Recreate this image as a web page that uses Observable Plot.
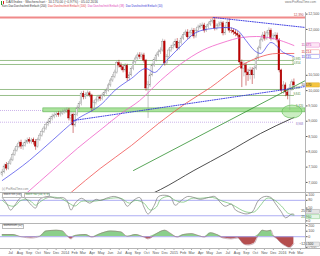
<!DOCTYPE html>
<html><head><meta charset="utf-8">
<script src="https://cdn.jsdelivr.net/npm/d3@7"></script>
<script src="https://cdn.jsdelivr.net/npm/@observablehq/plot@0.6"></script>
<style>
html,body{margin:0;padding:0;background:#fff;}
#wrap{position:relative;width:320px;height:256px;overflow:hidden;font-family:"Liberation Sans",Arial,sans-serif;background:#fff;}
.t{position:absolute;white-space:nowrap;line-height:1;}
.p{position:absolute;left:0;}
.hl{position:absolute;left:0;width:320px;height:0;border-top:0.6px solid #b5b5b5;}
</style></head><body>
<div id="wrap"></div>
<script>
// ---------- DATA ----------
const headerTitle = "DAX/Index · Wochenchart · 10.170,00 (−0,97%) · 05.02.2016";
const legendItems = [
  ["Kurs Dax Durchschnitt Einfach (200)", "#333333"],
  ["Dax Durchschnitt Einfach (100)", "#e23a3a"],
  ["Dax Durchschnitt Einfach (38)", "#e043b5"],
  ["Dax Durchschnitt Einfach (10)", "#3535d5"]
];
const firstWeek = "2013-06-03";
const xStart = "2013-05-28", xEnd = "2016-03-18";

const opens = [7250,7330,7560,7450,7600,7720,7900,8040,8150,8300,
 8170,8200,8300,8380,8330,8380,8330,8170,8390,8530,
 8650,8760,8880,8960,9070,9150,9190,9240,9200,9250,
 9290,9320,9350,9090,9200,8860,9200,9420,9560,9900,
 9780,9850,9910,9840,9420,9600,9680,9780,9730,9840,
 9920,10000,10170,10330,10450,10590,10900,10820,10760,10660,
 10800,10400,10500,10700,10920,11050,11150,11100,11150,10980,
 10070,10170,10500,10820,11000,11150,11250,11310,11600,10890,
 11100,11310,11400,11470,11600,11380,11550,11700,11820,11900,
 11740,11880,11960,11770,11950,12060,12100,12130,11960,12080,
 12160,12240,12290,12030,12100,12160,12200,11870,12050,12220,
 11960,11950,11900,11850,11800,10920,10720,10820,10590,10500,
 10660,10500,10720,11050,11380,11640,11800,11700,11870,11960,
 11700,11770,11800,11640,10660,10000,10170,9940,9840,10070,
 10270];
const closes = [7330,7520,7450,7600,7720,7900,8040,8150,8270,8170,
 8200,8300,8360,8330,8370,8310,8170,8390,8530,8650,
 8760,8880,8960,9070,9150,9190,9220,9200,9250,9290,
 9320,9350,9090,9180,8860,9200,9420,9560,9900,9780,
 9850,9910,9840,9420,9600,9680,9780,9730,9840,9920,
 10000,10170,10330,10450,10590,10900,10820,10760,10660,10800,
 10400,10500,10700,10920,11050,11150,11100,11150,10980,10070,
 10170,10500,10820,11000,11150,11250,11310,11600,10890,11100,
 11310,11400,11470,11600,11380,11550,11700,11820,11900,11740,
 11880,11960,11770,11950,12060,12100,12130,11960,12080,12160,
 12240,12290,12030,12100,12160,12200,11870,12050,12220,11960,
 11950,11900,11850,11800,10920,10720,10820,10590,10500,10660,
 10500,10720,11050,11380,11640,11800,11700,11870,11960,11700,
 11770,11800,11640,10660,10000,10170,9940,9840,10070,10270,
 10170];
const highs = [7420,7600,7650,7680,7800,7960,8120,8230,8350,8380,
 8290,8390,8450,8460,8440,8450,8400,8450,8600,8720,
 8830,8950,9040,9150,9230,9270,9300,9310,9330,9370,
 9400,9430,9420,9290,9270,9280,9500,9640,9960,9980,
 9930,9990,9970,9880,9670,9750,9850,9850,9910,10000,
 10080,10240,10400,10530,10670,10960,10990,10900,10830,10880,
 10860,10600,10780,10990,11130,11230,11240,11230,11220,11020,
 10300,10580,10880,11080,11230,11330,11400,11680,11650,11180,
 11380,11480,11560,11680,11700,11630,11780,11900,11980,11990,
 11950,12040,12030,12020,12140,12190,12210,12200,12150,12240,
 12320,12390,12360,12180,12250,12280,12260,12130,12300,12340,
 12050,12020,11980,11930,11850,11000,10950,10900,10700,10760,
 10750,10800,11120,11450,11720,11900,11930,11950,12050,12020,
 11860,11900,11880,11700,10700,10300,10250,10050,10200,10350,
 10380];
const lows = [7180,7280,7380,7400,7560,7680,7850,7990,8100,8080,
 8050,8150,8240,8260,8250,8220,8050,8120,8340,8480,
 8600,8700,8820,8900,9010,9080,9120,9130,9140,9190,
 9230,9260,9010,8980,8600,8800,9150,9370,9500,9700,
 9710,9790,9770,9300,9350,9530,9620,9650,9670,9780,
 9860,9950,10110,10270,10390,10540,10740,10680,10580,10600,
 10300,10320,10450,10650,10860,10990,11020,11030,10900,9980,
 9090,10100,10450,10760,10940,11090,11180,11260,10800,10830,
 11040,11250,11330,11400,11300,11320,11490,11640,11760,11660,
 11680,11820,11690,11710,11890,12000,12030,11880,11900,12010,
 12100,12180,11950,11960,12040,12090,11790,11800,11990,11880,
 11860,11810,11760,11720,10850,10100,10450,10150,10300,10350,
 10200,10380,10660,10990,11320,11580,11620,11640,11800,11620,
 11640,11700,11560,10580,9900,9880,9800,9700,9350,9980,
 10080];

// moving averages: [week index, value]
const maBlue = [[0,7063],[13,7717],[24,8370],[35,9024],[48,9580],[54,10004],[62,10397],[69,10723],[73,10593],[78,10920],[86,11475],[93,11900],[101,12031],[108,12063],[113,11965],[117,11638],[121,11312],[124,11214],[129,11573],[135,11246],[140,11115]];
const maPink = [[12,6671],[24,7390],[36,8109],[48,8763],[57,9253],[66,9678],[76,10331],[86,10887],[96,11312],[106,11573],[115,11736],[122,11769],[130,11704],[140,11475]];
const maRed = [[33,6671],[47,7455],[62,8207],[75,8926],[88,9580],[100,10103],[113,10756],[123,11083],[132,11214],[140,11214]];
const maBlack = [[73,6671],[76,6770],[92,7390],[108,7980],[124,8600],[139,9090],[140,9120]];

// trendlines [date, price]
const trendGreen = [["2014-08-18",7390],["2016-03-18",10331]];
const trendBlueLow = [["2014-01-28",9024],["2016-03-18",10135]];
const trendBlueHigh = [["2015-05-14",12390],["2016-03-18",12063]];

// horizontal levels
const levelRed = 12390;
const levelsGreen = [10985,10854,10037,9841];
const levelsPurple = [[9351,"2013-10-19"],[8968,"2016-02-10"]];
const zone = [9290,9420], zoneStart = "2013-10-19";
const levelEnd = "2016-02-10";
const focus = {date:"2016-02-03", price:9300};
const priceTicks = [7000,7500,8000,8500,9000,9500,10000,10500,12000,12500];

// stochastic [week, value]
const stochK = [[0,91],[2,69],[4,42],[6,61],[9,91],[11,88],[14,61],[16,50],[18,84],[22,95],[26,88],[29,91],[31,80],[33,42],[35,69],[38,88],[42,69],[45,84],[47,80],[51,91],[54,95],[58,80],[60,57],[63,80],[66,91],[68,54],[70,27],[73,61],[75,95],[79,99],[81,91],[83,61],[86,80],[89,95],[92,91],[95,84],[99,91],[102,95],[105,69],[107,57],[110,65],[112,42],[115,31],[117,27],[120,35],[123,80],[126,95],[129,91],[131,69],[134,35],[136,12],[139,27],[140,25.75]];
const stochD = [[0,80],[3,61],[6,58],[9,80],[13,80],[16,61],[18,73],[22,91],[28,88],[32,69],[35,58],[38,76],[43,76],[47,80],[52,88],[57,88],[61,69],[64,80],[68,69],[71,42],[74,54],[76,84],[80,95],[83,80],[87,73],[91,88],[95,88],[101,91],[106,76],[110,65],[114,46],[117,35],[121,35],[124,61],[127,88],[130,84],[134,58],[137,31],[140,21.96]];
const stochLines = [20,80];
const stochTicks = [0,50,80,100];

// momentum [week, value]
const momentum = [[0,40],[5,40],[9,0],[14,-24],[18,8],[21,103],[26,119],[29,103],[31,24],[33,-40],[35,24],[40,40],[43,-8],[47,56],[52,103],[57,87],[60,8],[64,40],[68,-8],[70,-40],[74,56],[78,119],[81,56],[84,-8],[87,40],[91,56],[94,24],[97,-8],[100,71],[103,40],[106,-24],[110,-40],[113,-24],[116,-135],[118,-151],[121,-119],[123,40],[125,119],[127,103],[129,119],[130,24],[132,-40],[134,-119],[136,-167],[138,-198],[140,-125.5]];
const momTicks = [-200,0,100,200];

// ---------- BUILD ----------
const DAY = 864e5;
const t0 = new Date(firstWeek + "T00:00:00Z");
const weekDate = i => new Date(+t0 + i*7*DAY);
const D = s => new Date(s + "T00:00:00Z");
const X0 = D(xStart), X1 = D(xEnd);
const candles = closes.map((c,i)=>({date:weekDate(i), o:opens[i], h:highs[i], l:lows[i], c, up:c>=opens[i]}));
const pts = a => a.map(([w,v])=>({date:weekDate(w), v}));
const tl = a => a.map(([d,v])=>({date:D(d), v}));
const fmt = d3.format(",");
const FONT = "Liberation Sans, Arial, sans-serif";
const baseStyle = {fontSize:"3.6px", fontFamily:FONT, color:"#555", background:"transparent", overflow:"visible"};

const wrap = document.getElementById("wrap");
function div(cls, css, txt){const e=document.createElement("div");e.className=cls;e.style.cssText=css;if(txt!=null)e.textContent=txt;wrap.appendChild(e);return e;}

// header
div("t","left:1px;top:0.5px;width:1.2px;height:4px;background:#2a9d2a;");
div("t","left:3px;top:1px;width:1.2px;height:3px;background:#d22;");
div("t",`left:6px;top:1px;font-size:3.4px;color:#444;`, headerTitle);
div("t",`right:4px;top:1px;font-size:3px;color:#777;`, "www.ProRealTime.com");
const leg = div("t","left:2px;top:5.6px;font-size:2.75px;display:flex;gap:1.6px;");
legendItems.forEach(([t,c])=>{const s=document.createElement("span");s.textContent=t;s.style.color=c;leg.appendChild(s);});

// ----- main price panel -----
const levelRows = levelsGreen.map(v=>({y:v, a:X0, b:D(levelEnd)}));
const purpleRows = levelsPurple.map(([v,e])=>({y:v, a:X0, b:D(e)}));
const main = Plot.plot({
  width:320, height:180, marginTop:0, marginBottom:0, marginLeft:0, marginRight:15,
  style: baseStyle,
  x:{type:"utc", domain:[X0,X1], axis:null},
  y:{domain:[6671,12553], axis:"right", ticks:priceTicks, tickFormat:fmt, tickSize:1.5, tickPadding:1.2, label:null},
  marks:[
    Plot.ruleY(purpleRows,{y:"y", x1:"a", x2:"b", stroke:"#b08ae0", strokeWidth:0.8, strokeDasharray:"0.8,1.2"}),
    Plot.rect([{a:D(zoneStart), b:X1, y1:zone[0], y2:zone[1]}],{x1:"a", x2:"b", y1:"y1", y2:"y2", fill:"#abe29d", stroke:"#5fb552", strokeWidth:0.6}),
    Plot.ruleY(levelRows,{y:"y", x1:"a", x2:"b", stroke:"#7fae6f", strokeWidth:0.8}),
    Plot.ruleY([{y:levelRed, a:X0, b:X1}],{y:"y", x1:"a", x2:"b", stroke:"#f08a8a", strokeWidth:2}),
    Plot.ruleX(candles,{x:"date", y1:"l", y2:"h", stroke:d=>d.up?"#8c8c8c":"#a80000", strokeWidth:0.5}),
    Plot.rect(candles,{x1:d=>new Date(+d.date-2.7*DAY), x2:d=>new Date(+d.date+2.7*DAY), y1:"o", y2:"c",
      fill:d=>d.up?"#f6f6f6":"#c50000", stroke:d=>d.up?"#8c8c8c":"#9a0000", strokeWidth:0.4}),
    Plot.line(pts(maBlack),{x:"date", y:"v", stroke:"#222", strokeWidth:0.8, curve:"monotone-x"}),
    Plot.line(pts(maRed),{x:"date", y:"v", stroke:"#f05050", strokeWidth:0.8, curve:"monotone-x"}),
    Plot.line(pts(maPink),{x:"date", y:"v", stroke:"#f060c8", strokeWidth:0.8, curve:"monotone-x"}),
    Plot.line(pts(maBlue),{x:"date", y:"v", stroke:"#4040e8", strokeWidth:0.7, curve:"monotone-x"}),
    Plot.line(tl(trendGreen),{x:"date", y:"v", stroke:"#2f8f2f", strokeWidth:0.8}),
    Plot.line(tl(trendBlueLow),{x:"date", y:"v", stroke:"#3030e0", strokeWidth:0.9, strokeDasharray:"1,1.3"}),
    Plot.line(tl(trendBlueHigh),{x:"date", y:"v", stroke:"#3030e0", strokeWidth:0.9, strokeDasharray:"1,1.3"}),
    Plot.text([{d:X1, y:levelRed}],{x:"d", y:"y", text:d=>fmt(d.y), textAnchor:"end", dx:-2, dy:-2.6, fill:"#b44", fontSize:3.2}),
    Plot.text(levelRows,{x:()=>X1, y:"y", text:d=>fmt(d.y), textAnchor:"end", dx:-5, dy:-1.7, fill:"#4c8a3c", fontSize:2.8}),
    Plot.text([purpleRows[1]],{x:()=>X1, y:"y", text:d=>fmt(d.y), textAnchor:"end", dx:-2.5, dy:1.6, fill:"#8a6ac0", fontSize:2.8}),
    Plot.text([{d:X1, y:zone[1]}],{x:"d", y:"y", text:d=>fmt(d.y), textAnchor:"end", dx:-2.5, dy:-1.8, fill:"#3c7a2c", fontSize:2.8})
  ]
});
const mainBox = div("p","top:12px;"); mainBox.appendChild(main);

const sx = main.scale("x"), sy = main.scale("y");
const svgM = d3.select(main);
// focus ellipse
svgM.append("ellipse").attr("cx", sx.apply(D(focus.date))).attr("cy", sy.apply(focus.price))
  .attr("rx",10).attr("ry",6.5).attr("fill","rgba(140,214,120,0.45)").attr("stroke","#5dbb50").attr("stroke-width",0.6);
function tag(svg, y, text, fg, bg, bd){
  const g = svg.append("g");
  g.append("rect").attr("x",305.5).attr("y",y-2.1).attr("width",14).attr("height",4.2).attr("fill",bg).attr("stroke",bd).attr("stroke-width",0.4);
  g.append("text").attr("x",306.3).attr("y",y+1.2).attr("font-size",3.3).attr("font-family",FONT).attr("fill",fg).text(text);
}
function tags(svg, list){ // list of [y, text, fg, bg, bd]; keep them from overlapping
  list.sort((a,b)=>a[0]-b[0]);
  for (let i=1;i<list.length;i++) if (list[i][0]-list[i-1][0] < 4.5) list[i][0] = list[i-1][0] + 4.5;
  list.forEach(t=>tag(svg, ...t));
}
const lastOf = a => a[a.length-1][1];
tags(svgM, [
  [sy.apply(lastOf(maPink)), fmt(lastOf(maPink)), "#c0309a", "#fde6f5", "#e060c0"],
  [sy.apply(lastOf(maRed)) - 1, fmt(lastOf(maRed)), "#d02020", "#fff", "#f07070"],
  [sy.apply(lastOf(maBlue)), fmt(lastOf(maBlue)), "#2a2ad0", "#fff", "#7070f0"],
  [sy.apply(closes[closes.length-1]), fmt(closes[closes.length-1]), "#333", "#f5c440", "#d8a020"]
]);
div("t","left:2px;top:187.5px;font-size:2.8px;color:#888;","(c) ProRealTime.com");

// ----- stochastic panel -----
const stoch = Plot.plot({
  width:320, height:31, marginTop:2.7, marginBottom:2.6, marginLeft:0, marginRight:15,
  style: baseStyle,
  x:{type:"utc", domain:[X0,X1], axis:null},
  y:{domain:[0,100], axis:"right", ticks:stochTicks, tickSize:1.5, tickPadding:1.2, label:null},
  marks:[
    Plot.ruleY(stochLines,{stroke:"#a4a4f2", strokeWidth:0.9}),
    Plot.line(pts(stochD),{x:"date", y:"v", stroke:"#6cbf6c", strokeWidth:0.7, curve:"catmull-rom"}),
    Plot.line(pts(stochK),{x:"date", y:"v", stroke:"#7a7a7a", strokeWidth:0.7, curve:"catmull-rom"})
  ]
});
const stochBox = div("p","top:192px;"); stochBox.appendChild(stoch);
const svgS = d3.select(stoch), syS = stoch.scale("y");
tags(svgS, [
  [syS.apply(lastOf(stochK)) - 2.5, d3.format(".3f")(lastOf(stochK)), "#333", "#e4e4e4", "#999"],
  [syS.apply(lastOf(stochD)) + 2, d3.format(".3f")(lastOf(stochD)), "#2a7a2a", "#e4f5e4", "#6cbf6c"]
]);
const sh = div("t","left:2px;top:193.2px;font-size:2.7px;display:flex;gap:1.5px;");
[["Stoch %K (14)","#444"],["Stoch %D (14, 3, 3)","#3a9a3a"]].forEach(([t,c])=>{const s=document.createElement("span");s.textContent=t;s.style.cssText=`color:${c};border:0.3px solid #bbb;padding:0 0.5px;`;sh.appendChild(s);});

// ----- momentum panel -----
const mom = pts(momentum);
const monthTicks = d3.utcMonths(D("2013-07-01"), D("2016-03-02"));
const mom_plot = Plot.plot({
  width:320, height:33, marginTop:0, marginBottom:8, marginLeft:0, marginRight:15,
  style: baseStyle,
  x:{type:"utc", domain:[X0,X1], ticks:monthTicks, tickFormat:d=>d.getUTCMonth()===0?String(d.getUTCFullYear()):d3.utcFormat("%b")(d), tickSize:1.5, tickPadding:1, label:null},
  y:{domain:[-214,240], axis:"right", ticks:momTicks, tickSize:1.5, tickPadding:1.2, label:null},
  marks:[
    Plot.areaY(mom,{x:"date", y1:d=>0, y2:d=>Math.max(0,d.v), fill:"#8bcf8b", curve:"monotone-x"}),
    Plot.areaY(mom,{x:"date", y1:d=>0, y2:d=>Math.min(0,d.v), fill:"#b54e4e", curve:"monotone-x"}),
    Plot.ruleY([0],{stroke:"#a4a4f2", strokeWidth:0.9}),
    Plot.line(mom,{x:"date", y:"v", stroke:"#9a6a7a", strokeWidth:0.5, curve:"monotone-x"})
  ]
});
const momBox = div("p","top:223px;"); momBox.appendChild(mom_plot);
const svgMo = d3.select(mom_plot), syMo = mom_plot.scale("y");
tag(svgMo, syMo.apply(lastOf(momentum))+1, d3.format(".3f")(lastOf(momentum)), "#333", "#e8e8e8", "#999");
div("t","left:2px;top:224.3px;font-size:2.7px;color:#444;border:0.3px solid #bbb;padding:0 0.5px;","Momentum (12)");

// panel separators and right axis line
div("hl","top:192px;");
div("hl","top:223px;");
div("hl","top:248px;");
div("t","left:305px;top:12px;width:0;height:236px;border-left:0.6px solid #b5b5b5;");
</script>
</body></html>
